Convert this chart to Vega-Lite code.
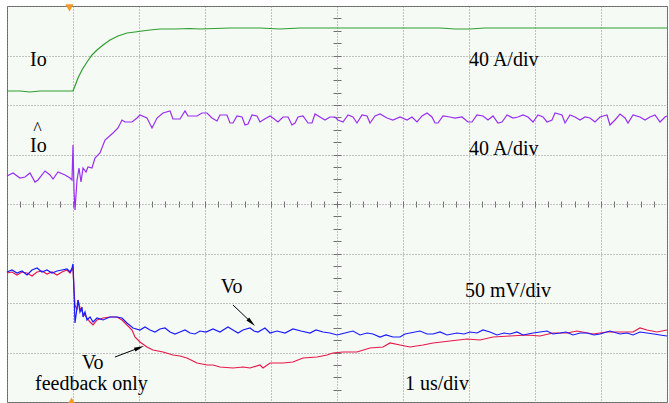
{
  "$schema": "https://vega.github.io/schema/vega-lite/v6.json",
  "width": 660,
  "height": 396,
  "autosize": {"type": "none"},
  "padding": {"left": 7, "top": 6, "right": 2, "bottom": 1},
  "background": "#ffffff",
  "config": {"view": {"fill": "#f5faf5", "stroke": "#666666", "strokeWidth": 1}},
  "datasets": {
    "io": [
      {"t": -1.000, "y": 2.283}, {"t": -0.803, "y": 2.283}, {"t": -0.652, "y": 2.263}, {"t": -0.500, "y": 2.283},
      {"t": -0.273, "y": 2.283}, {"t": 0.000, "y": 2.283}, {"t": 0.030, "y": 2.384}, {"t": 0.076, "y": 2.545},
      {"t": 0.136, "y": 2.707}, {"t": 0.212, "y": 2.869}, {"t": 0.288, "y": 3.010}, {"t": 0.364, "y": 3.111},
      {"t": 0.455, "y": 3.212}, {"t": 0.561, "y": 3.313}, {"t": 0.682, "y": 3.394}, {"t": 0.818, "y": 3.455},
      {"t": 0.939, "y": 3.475}, {"t": 1.045, "y": 3.495}, {"t": 1.167, "y": 3.515}, {"t": 1.318, "y": 3.535},
      {"t": 1.545, "y": 3.535}, {"t": 1.773, "y": 3.545}, {"t": 1.924, "y": 3.535}, {"t": 2.379, "y": 3.556},
      {"t": 2.833, "y": 3.556}, {"t": 3.136, "y": 3.535}, {"t": 3.439, "y": 3.556}, {"t": 3.894, "y": 3.556},
      {"t": 4.348, "y": 3.556}, {"t": 4.803, "y": 3.556}, {"t": 5.258, "y": 3.556}, {"t": 5.561, "y": 3.556},
      {"t": 5.788, "y": 3.535}, {"t": 6.015, "y": 3.535}, {"t": 6.242, "y": 3.556}, {"t": 6.621, "y": 3.556},
      {"t": 7.076, "y": 3.556}, {"t": 7.530, "y": 3.556}, {"t": 7.985, "y": 3.556}, {"t": 8.288, "y": 3.556},
      {"t": 8.591, "y": 3.556}, {"t": 9.000, "y": 3.556}
    ],
    "ioref": [
      {"t": -1.000, "y": 0.566}, {"t": -0.909, "y": 0.626}, {"t": -0.803, "y": 0.525}, {"t": -0.727, "y": 0.545},
      {"t": -0.652, "y": 0.626}, {"t": -0.576, "y": 0.444}, {"t": -0.530, "y": 0.485}, {"t": -0.424, "y": 0.667},
      {"t": -0.348, "y": 0.586}, {"t": -0.303, "y": 0.505}, {"t": -0.227, "y": 0.646}, {"t": -0.121, "y": 0.586},
      {"t": -0.045, "y": 0.525}, {"t": -0.015, "y": 0.485}, {"t": 0.000, "y": 1.192}, {"t": 0.015, "y": 0.283},
      {"t": 0.030, "y": -0.121}, {"t": 0.061, "y": 0.485}, {"t": 0.091, "y": 0.727}, {"t": 0.121, "y": 0.444},
      {"t": 0.152, "y": 0.727}, {"t": 0.197, "y": 0.646}, {"t": 0.227, "y": 0.747}, {"t": 0.288, "y": 0.727},
      {"t": 0.333, "y": 0.929}, {"t": 0.409, "y": 1.030}, {"t": 0.485, "y": 1.293}, {"t": 0.606, "y": 1.434},
      {"t": 0.682, "y": 1.535}, {"t": 0.742, "y": 1.697}, {"t": 0.788, "y": 1.657}, {"t": 0.894, "y": 1.657},
      {"t": 0.970, "y": 1.737}, {"t": 1.015, "y": 1.798}, {"t": 1.121, "y": 1.737}, {"t": 1.197, "y": 1.535},
      {"t": 1.273, "y": 1.737}, {"t": 1.364, "y": 1.838}, {"t": 1.470, "y": 1.879}, {"t": 1.515, "y": 1.717},
      {"t": 1.621, "y": 1.717}, {"t": 1.697, "y": 1.879}, {"t": 1.742, "y": 1.778}, {"t": 1.879, "y": 1.778},
      {"t": 1.955, "y": 1.838}, {"t": 2.030, "y": 1.838}, {"t": 2.106, "y": 1.737}, {"t": 2.182, "y": 1.677},
      {"t": 2.227, "y": 1.798}, {"t": 2.333, "y": 1.798}, {"t": 2.379, "y": 1.636}, {"t": 2.424, "y": 1.636},
      {"t": 2.485, "y": 1.778}, {"t": 2.561, "y": 1.758}, {"t": 2.606, "y": 1.596}, {"t": 2.652, "y": 1.616},
      {"t": 2.712, "y": 1.798}, {"t": 2.788, "y": 1.778}, {"t": 2.833, "y": 1.657}, {"t": 2.879, "y": 1.697},
      {"t": 2.985, "y": 1.778}, {"t": 3.030, "y": 1.737}, {"t": 3.106, "y": 1.657}, {"t": 3.182, "y": 1.758},
      {"t": 3.258, "y": 1.758}, {"t": 3.318, "y": 1.596}, {"t": 3.364, "y": 1.636}, {"t": 3.409, "y": 1.758},
      {"t": 3.485, "y": 1.778}, {"t": 3.561, "y": 1.636}, {"t": 3.621, "y": 1.636}, {"t": 3.667, "y": 1.818},
      {"t": 3.742, "y": 1.758}, {"t": 3.818, "y": 1.697}, {"t": 3.894, "y": 1.758}, {"t": 3.970, "y": 1.758},
      {"t": 4.015, "y": 1.697}, {"t": 4.091, "y": 1.657}, {"t": 4.167, "y": 1.798}, {"t": 4.242, "y": 1.758},
      {"t": 4.303, "y": 1.636}, {"t": 4.379, "y": 1.798}, {"t": 4.455, "y": 1.778}, {"t": 4.500, "y": 1.636},
      {"t": 4.576, "y": 1.778}, {"t": 4.652, "y": 1.818}, {"t": 4.758, "y": 1.737}, {"t": 4.848, "y": 1.697},
      {"t": 4.955, "y": 1.758}, {"t": 5.061, "y": 1.697}, {"t": 5.136, "y": 1.758}, {"t": 5.212, "y": 1.657},
      {"t": 5.288, "y": 1.778}, {"t": 5.364, "y": 1.838}, {"t": 5.439, "y": 1.758}, {"t": 5.485, "y": 1.636},
      {"t": 5.530, "y": 1.636}, {"t": 5.606, "y": 1.778}, {"t": 5.712, "y": 1.758}, {"t": 5.788, "y": 1.737},
      {"t": 5.894, "y": 1.758}, {"t": 5.985, "y": 1.657}, {"t": 6.045, "y": 1.657}, {"t": 6.121, "y": 1.798},
      {"t": 6.212, "y": 1.778}, {"t": 6.288, "y": 1.697}, {"t": 6.364, "y": 1.778}, {"t": 6.439, "y": 1.636},
      {"t": 6.500, "y": 1.657}, {"t": 6.576, "y": 1.798}, {"t": 6.667, "y": 1.737}, {"t": 6.742, "y": 1.758},
      {"t": 6.818, "y": 1.798}, {"t": 6.894, "y": 1.758}, {"t": 6.970, "y": 1.657}, {"t": 7.045, "y": 1.798},
      {"t": 7.121, "y": 1.758}, {"t": 7.182, "y": 1.657}, {"t": 7.258, "y": 1.697}, {"t": 7.303, "y": 1.838},
      {"t": 7.409, "y": 1.798}, {"t": 7.455, "y": 1.636}, {"t": 7.530, "y": 1.798}, {"t": 7.606, "y": 1.758},
      {"t": 7.682, "y": 1.697}, {"t": 7.758, "y": 1.758}, {"t": 7.833, "y": 1.737}, {"t": 7.909, "y": 1.657},
      {"t": 7.985, "y": 1.758}, {"t": 8.091, "y": 1.798}, {"t": 8.136, "y": 1.596}, {"t": 8.212, "y": 1.697},
      {"t": 8.288, "y": 1.818}, {"t": 8.364, "y": 1.737}, {"t": 8.409, "y": 1.636}, {"t": 8.485, "y": 1.798},
      {"t": 8.591, "y": 1.758}, {"t": 8.667, "y": 1.697}, {"t": 8.742, "y": 1.758}, {"t": 8.818, "y": 1.798},
      {"t": 8.894, "y": 1.657}, {"t": 8.970, "y": 1.758}, {"t": 9.000, "y": 1.778}
    ],
    "vo": [
      {"t": -1.000, "y": -1.374}, {"t": -0.924, "y": -1.333}, {"t": -0.848, "y": -1.394}, {"t": -0.773, "y": -1.354},
      {"t": -0.697, "y": -1.434}, {"t": -0.621, "y": -1.333}, {"t": -0.545, "y": -1.293}, {"t": -0.470, "y": -1.374},
      {"t": -0.394, "y": -1.333}, {"t": -0.318, "y": -1.394}, {"t": -0.242, "y": -1.354}, {"t": -0.167, "y": -1.333},
      {"t": -0.091, "y": -1.313}, {"t": -0.045, "y": -1.374}, {"t": -0.015, "y": -1.293}, {"t": 0.000, "y": -1.212},
      {"t": 0.015, "y": -1.737}, {"t": 0.030, "y": -2.404}, {"t": 0.061, "y": -2.101}, {"t": 0.076, "y": -1.939},
      {"t": 0.106, "y": -2.182}, {"t": 0.136, "y": -2.081}, {"t": 0.152, "y": -2.283}, {"t": 0.182, "y": -2.182},
      {"t": 0.212, "y": -2.343}, {"t": 0.258, "y": -2.283}, {"t": 0.303, "y": -2.384}, {"t": 0.364, "y": -2.303},
      {"t": 0.455, "y": -2.343}, {"t": 0.561, "y": -2.283}, {"t": 0.667, "y": -2.283}, {"t": 0.742, "y": -2.303},
      {"t": 0.818, "y": -2.404}, {"t": 0.909, "y": -2.505}, {"t": 1.015, "y": -2.545}, {"t": 1.091, "y": -2.485},
      {"t": 1.167, "y": -2.545}, {"t": 1.242, "y": -2.586}, {"t": 1.318, "y": -2.525}, {"t": 1.394, "y": -2.505},
      {"t": 1.470, "y": -2.586}, {"t": 1.545, "y": -2.626}, {"t": 1.621, "y": -2.586}, {"t": 1.697, "y": -2.545},
      {"t": 1.773, "y": -2.606}, {"t": 1.848, "y": -2.626}, {"t": 1.924, "y": -2.566}, {"t": 2.015, "y": -2.586},
      {"t": 2.121, "y": -2.525}, {"t": 2.227, "y": -2.586}, {"t": 2.348, "y": -2.485}, {"t": 2.424, "y": -2.545},
      {"t": 2.500, "y": -2.606}, {"t": 2.576, "y": -2.545}, {"t": 2.682, "y": -2.505}, {"t": 2.742, "y": -2.566},
      {"t": 2.803, "y": -2.586}, {"t": 2.909, "y": -2.505}, {"t": 2.985, "y": -2.606}, {"t": 3.091, "y": -2.566},
      {"t": 3.212, "y": -2.606}, {"t": 3.333, "y": -2.525}, {"t": 3.455, "y": -2.566}, {"t": 3.591, "y": -2.606},
      {"t": 3.682, "y": -2.545}, {"t": 3.788, "y": -2.586}, {"t": 3.894, "y": -2.606}, {"t": 4.000, "y": -2.646},
      {"t": 4.121, "y": -2.606}, {"t": 4.242, "y": -2.566}, {"t": 4.348, "y": -2.646}, {"t": 4.455, "y": -2.606},
      {"t": 4.545, "y": -2.626}, {"t": 4.652, "y": -2.687}, {"t": 4.742, "y": -2.646}, {"t": 4.848, "y": -2.687},
      {"t": 4.955, "y": -2.687}, {"t": 5.030, "y": -2.626}, {"t": 5.106, "y": -2.606}, {"t": 5.258, "y": -2.566},
      {"t": 5.364, "y": -2.626}, {"t": 5.455, "y": -2.626}, {"t": 5.561, "y": -2.586}, {"t": 5.667, "y": -2.646},
      {"t": 5.818, "y": -2.606}, {"t": 5.924, "y": -2.626}, {"t": 6.015, "y": -2.586}, {"t": 6.121, "y": -2.606},
      {"t": 6.212, "y": -2.545}, {"t": 6.318, "y": -2.586}, {"t": 6.424, "y": -2.646}, {"t": 6.530, "y": -2.606},
      {"t": 6.621, "y": -2.626}, {"t": 6.727, "y": -2.586}, {"t": 6.818, "y": -2.646}, {"t": 6.970, "y": -2.606},
      {"t": 7.076, "y": -2.586}, {"t": 7.182, "y": -2.566}, {"t": 7.273, "y": -2.626}, {"t": 7.379, "y": -2.606},
      {"t": 7.470, "y": -2.586}, {"t": 7.576, "y": -2.646}, {"t": 7.682, "y": -2.606}, {"t": 7.788, "y": -2.606},
      {"t": 7.894, "y": -2.646}, {"t": 7.985, "y": -2.626}, {"t": 8.136, "y": -2.566}, {"t": 8.288, "y": -2.626},
      {"t": 8.394, "y": -2.606}, {"t": 8.485, "y": -2.646}, {"t": 8.591, "y": -2.586}, {"t": 8.697, "y": -2.606},
      {"t": 8.803, "y": -2.626}, {"t": 8.894, "y": -2.646}, {"t": 9.000, "y": -2.667}
    ],
    "vofb": [
      {"t": -1.000, "y": -1.394}, {"t": -0.924, "y": -1.374}, {"t": -0.848, "y": -1.434}, {"t": -0.773, "y": -1.374},
      {"t": -0.697, "y": -1.394}, {"t": -0.621, "y": -1.455}, {"t": -0.545, "y": -1.374}, {"t": -0.470, "y": -1.354},
      {"t": -0.394, "y": -1.414}, {"t": -0.318, "y": -1.374}, {"t": -0.242, "y": -1.434}, {"t": -0.167, "y": -1.374},
      {"t": -0.091, "y": -1.333}, {"t": -0.045, "y": -1.394}, {"t": 0.000, "y": -1.293}, {"t": 0.015, "y": -1.737},
      {"t": 0.030, "y": -2.040}, {"t": 0.061, "y": -2.141}, {"t": 0.076, "y": -1.939}, {"t": 0.106, "y": -2.101},
      {"t": 0.152, "y": -2.202}, {"t": 0.212, "y": -2.303}, {"t": 0.258, "y": -2.384}, {"t": 0.303, "y": -2.444},
      {"t": 0.364, "y": -2.343}, {"t": 0.455, "y": -2.303}, {"t": 0.561, "y": -2.283}, {"t": 0.667, "y": -2.283},
      {"t": 0.742, "y": -2.343}, {"t": 0.818, "y": -2.444}, {"t": 0.894, "y": -2.545}, {"t": 0.939, "y": -2.687},
      {"t": 1.015, "y": -2.788}, {"t": 1.121, "y": -2.889}, {"t": 1.212, "y": -2.949}, {"t": 1.364, "y": -2.990},
      {"t": 1.515, "y": -3.051}, {"t": 1.621, "y": -3.071}, {"t": 1.727, "y": -3.111}, {"t": 1.879, "y": -3.212},
      {"t": 2.030, "y": -3.253}, {"t": 2.121, "y": -3.253}, {"t": 2.227, "y": -3.293}, {"t": 2.424, "y": -3.313},
      {"t": 2.576, "y": -3.293}, {"t": 2.682, "y": -3.313}, {"t": 2.833, "y": -3.253}, {"t": 2.879, "y": -3.313},
      {"t": 2.985, "y": -3.212}, {"t": 3.182, "y": -3.212}, {"t": 3.333, "y": -3.192}, {"t": 3.485, "y": -3.111},
      {"t": 3.697, "y": -3.091}, {"t": 3.848, "y": -3.051}, {"t": 3.939, "y": -3.010}, {"t": 4.091, "y": -2.990},
      {"t": 4.303, "y": -2.990}, {"t": 4.500, "y": -2.909}, {"t": 4.697, "y": -2.889}, {"t": 4.803, "y": -2.808},
      {"t": 4.955, "y": -2.848}, {"t": 5.106, "y": -2.889}, {"t": 5.303, "y": -2.848}, {"t": 5.455, "y": -2.808},
      {"t": 5.712, "y": -2.768}, {"t": 5.970, "y": -2.727}, {"t": 6.167, "y": -2.747}, {"t": 6.364, "y": -2.687},
      {"t": 6.621, "y": -2.667}, {"t": 6.879, "y": -2.646}, {"t": 7.076, "y": -2.667}, {"t": 7.273, "y": -2.606},
      {"t": 7.485, "y": -2.606}, {"t": 7.636, "y": -2.566}, {"t": 7.879, "y": -2.626}, {"t": 8.091, "y": -2.586},
      {"t": 8.288, "y": -2.586}, {"t": 8.485, "y": -2.586}, {"t": 8.591, "y": -2.505}, {"t": 8.697, "y": -2.545},
      {"t": 8.848, "y": -2.586}, {"t": 9.000, "y": -2.545}
    ],
    "labels": [
      {"t": -0.652, "y": 2.788, "text": "Io"},
      {"t": 6.0, "y": 2.788, "text": "40 A/div"},
      {"t": -0.652, "y": 1.05, "text": "Io"},
      {"t": 6.0, "y": 1.0, "text": "40 A/div"},
      {"t": 5.939, "y": -1.885, "text": "50 mV/div"},
      {"t": 5.03, "y": -3.758, "text": "1 us/div"},
      {"t": 2.238, "y": -1.804, "text": "Vo"},
      {"t": 0.131, "y": -3.34, "text": "Vo"},
      {"t": -0.576, "y": -3.758, "text": "feedback only"}
    ],
    "hat": [
      {"t": -0.538, "y": 1.40, "text": "^"}
    ],
    "arrows": [
      {"name": "vo", "t": 2.424, "y": -2.04, "t2": 2.703, "y2": -2.394},
      {"name": "fb", "t": 0.636, "y": -3.091, "t2": 1.005, "y2": -2.905}
    ],
    "trig": [
      {"pos": "top", "t": -0.053, "y": 3.96},
      {"pos": "bottom", "t": -0.023, "y": -3.98}
    ]
  },
  "layer": [
    {
      "data": {"name": "io"},
      "mark": {"type": "line", "color": "#2e9e2e", "strokeWidth": 1.2},
      "encoding": {
        "x": {"field": "t", "type": "quantitative", "scale": {"domain": [-1, 9], "nice": false, "zero": false},
          "axis": {"values": [-1, 0, 1, 2, 3, 4, 5, 6, 7, 8, 9], "grid": true, "gridColor": "#8a8a8a", "gridDash": [1, 2], "gridWidth": 1, "ticks": false, "labels": false, "domain": false, "title": null}},
        "y": {"field": "y", "type": "quantitative", "scale": {"domain": [-4, 4], "nice": false, "zero": false},
          "axis": {"values": [-4, -3, -2, -1, 0, 1, 2, 3, 4], "grid": true, "gridColor": "#8a8a8a", "gridDash": [1, 2], "gridWidth": 1, "ticks": false, "labels": false, "domain": false, "title": null}}
      }
    },
    {
      "data": {"name": "ioref"},
      "mark": {"type": "line", "color": "#9a2ef0", "strokeWidth": 1.2},
      "encoding": {
        "x": {"field": "t", "type": "quantitative", "scale": {"domain": [-1, 9], "nice": false, "zero": false},
          "axis": {"orient": "bottom", "offset": -198, "values": [-1,-0.8,-0.6,-0.4,-0.2,0,0.2,0.4,0.6,0.8,1,1.2,1.4,1.6,1.8,2,2.2,2.4,2.6,2.8,3,3.2,3.4,3.6,3.8,4,4.2,4.4,4.6,4.8,5,5.2,5.4,5.6,5.8,6,6.2,6.4,6.6,6.8,7,7.2,7.4,7.6,7.8,8,8.2,8.4,8.6,8.8,9], "grid": false, "ticks": true, "tickSize": 3, "tickColor": "#707070", "tickWidth": 1, "labels": false, "domain": false, "title": null}},
        "y": {"field": "y", "type": "quantitative", "scale": {"domain": [-4, 4], "nice": false, "zero": false},
          "axis": {"orient": "left", "offset": -330, "values": [-4,-3.75,-3.5,-3.25,-3,-2.75,-2.5,-2.25,-2,-1.75,-1.5,-1.25,-1,-0.75,-0.5,-0.25,0,0.25,0.5,0.75,1,1.25,1.5,1.75,2,2.25,2.5,2.75,3,3.25,3.5,3.75,4], "grid": false, "ticks": true, "tickSize": 4, "tickColor": "#707070", "tickWidth": 1, "labels": false, "domain": false, "title": null}}
      }
    },
    {
      "data": {"name": "vofb"},
      "mark": {"type": "line", "color": "#e8174a", "strokeWidth": 1.2},
      "encoding": {
        "x": {"field": "t", "type": "quantitative", "scale": {"domain": [-1, 9], "nice": false, "zero": false},
          "axis": {"orient": "top", "offset": -198, "values": [-1,-0.8,-0.6,-0.4,-0.2,0,0.2,0.4,0.6,0.8,1,1.2,1.4,1.6,1.8,2,2.2,2.4,2.6,2.8,3,3.2,3.4,3.6,3.8,4,4.2,4.4,4.6,4.8,5,5.2,5.4,5.6,5.8,6,6.2,6.4,6.6,6.8,7,7.2,7.4,7.6,7.8,8,8.2,8.4,8.6,8.8,9], "grid": false, "ticks": true, "tickSize": 3, "tickColor": "#707070", "tickWidth": 1, "labels": false, "domain": false, "title": null}},
        "y": {"field": "y", "type": "quantitative", "scale": {"domain": [-4, 4], "nice": false, "zero": false},
          "axis": {"orient": "right", "offset": -330, "values": [-4,-3.75,-3.5,-3.25,-3,-2.75,-2.5,-2.25,-2,-1.75,-1.5,-1.25,-1,-0.75,-0.5,-0.25,0,0.25,0.5,0.75,1,1.25,1.5,1.75,2,2.25,2.5,2.75,3,3.25,3.5,3.75,4], "grid": false, "ticks": true, "tickSize": 4, "tickColor": "#707070", "tickWidth": 1, "labels": false, "domain": false, "title": null}}
      }
    },
    {
      "data": {"name": "vo"},
      "mark": {"type": "line", "color": "#1a1aff", "strokeWidth": 1.2},
      "encoding": {
        "x": {"field": "t", "type": "quantitative", "axis": null},
        "y": {"field": "y", "type": "quantitative", "axis": null}
      }
    },
    {
      "data": {"name": "arrows"},
      "mark": {"type": "rule", "color": "#000000", "strokeWidth": 1},
      "encoding": {
        "x": {"field": "t", "type": "quantitative", "axis": null},
        "y": {"field": "y", "type": "quantitative", "axis": null},
        "x2": {"field": "t2"},
        "y2": {"field": "y2"}
      }
    },
    {
      "data": {"name": "arrows"},
      "transform": [{"filter": "datum.name === 'vo'"}],
      "mark": {"type": "point", "shape": "M0,-1L0.4,1L-0.4,1Z", "filled": true, "color": "#000000", "opacity": 1, "size": 100, "angle": 134},
      "encoding": {
        "x": {"field": "t2", "type": "quantitative", "axis": null},
        "y": {"field": "y2", "type": "quantitative", "axis": null}
      }
    },
    {
      "data": {"name": "arrows"},
      "transform": [{"filter": "datum.name === 'fb'"}],
      "mark": {"type": "point", "shape": "M0,-1L0.4,1L-0.4,1Z", "filled": true, "color": "#000000", "opacity": 1, "size": 100, "angle": 69},
      "encoding": {
        "x": {"field": "t2", "type": "quantitative", "axis": null},
        "y": {"field": "y2", "type": "quantitative", "axis": null}
      }
    },
    {
      "data": {"name": "labels"},
      "mark": {"type": "text", "font": "Liberation Serif", "fontSize": 20, "color": "#000000", "align": "left", "baseline": "alphabetic"},
      "encoding": {
        "x": {"field": "t", "type": "quantitative", "axis": null},
        "y": {"field": "y", "type": "quantitative", "axis": null},
        "text": {"field": "text"}
      }
    },
    {
      "data": {"name": "hat"},
      "mark": {"type": "text", "font": "Liberation Serif", "fontSize": 18, "color": "#000000", "align": "center", "baseline": "alphabetic"},
      "encoding": {
        "x": {"field": "t", "type": "quantitative", "axis": null},
        "y": {"field": "y", "type": "quantitative", "axis": null},
        "text": {"field": "text"}
      }
    },
    {
      "data": {"name": "trig"},
      "transform": [{"filter": "datum.pos === 'top'"}],
      "mark": {"type": "point", "shape": "triangle-down", "filled": true, "color": "#f59a23", "opacity": 1, "size": 70, "clip": false},
      "encoding": {
        "x": {"field": "t", "type": "quantitative", "axis": null},
        "y": {"field": "y", "type": "quantitative", "axis": null}
      }
    },
    {
      "data": {"name": "trig"},
      "transform": [{"filter": "datum.pos === 'bottom'"}],
      "mark": {"type": "point", "shape": "triangle-up", "filled": true, "color": "#f59a23", "opacity": 1, "size": 70, "clip": false},
      "encoding": {
        "x": {"field": "t", "type": "quantitative", "axis": null},
        "y": {"field": "y", "type": "quantitative", "axis": null}
      }
    }
  ],
  "resolve": {"axis": {"x": "independent", "y": "independent"}}
}
